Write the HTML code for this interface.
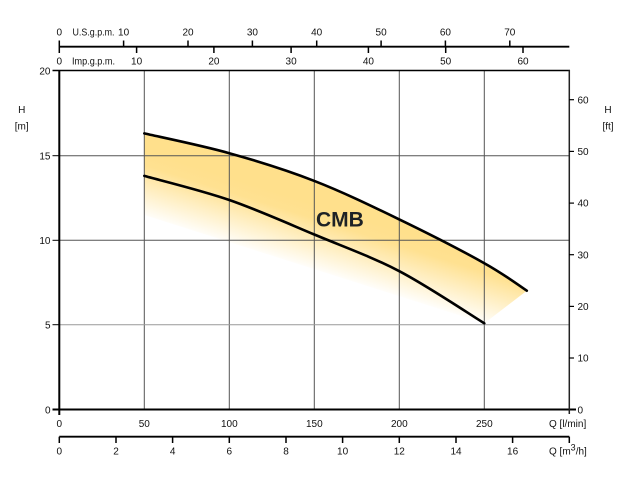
<!DOCTYPE html>
<html><head><meta charset="utf-8">
<style>
html,body{margin:0;padding:0;background:#fff;}
svg{display:block;}
text{font-family:"Liberation Sans",sans-serif;font-size:10px;fill:#111;}
</style></head>
<body>
<svg width="631" height="483" viewBox="0 0 631 483" xmlns="http://www.w3.org/2000/svg">
<defs>
<linearGradient id="g" gradientUnits="userSpaceOnUse" x1="314" y1="203.6" x2="294.5" y2="265.6">
<stop offset="0" stop-color="#FFE08C"/>
<stop offset="0.22" stop-color="#FFE191"/>
<stop offset="1" stop-color="#FFFFFF"/>
</linearGradient>
</defs>

<!-- fill -->
<path d="M144.3,133.4 C158.5,136.7 201,145.3 229.3,153.2 C257.6,161.1 286,169.9 314.3,180.9 C342.6,191.9 371,205.7 399.3,219.4 C427.6,233.1 463.1,251.3 484.3,263.2 C505.6,275.1 519.7,286.1 526.8,290.7 L484.3,323.3 L144.3,215 Z" fill="url(#g)"/>

<!-- grid -->
<g stroke="#555" stroke-width="1" fill="none">
<line x1="144.3" y1="71" x2="144.3" y2="409"/>
<line x1="229.3" y1="71" x2="229.3" y2="409"/>
<line x1="314.3" y1="71" x2="314.3" y2="409"/>
<line x1="399.3" y1="71" x2="399.3" y2="409"/>
<line x1="484.3" y1="71" x2="484.3" y2="409"/>
<line x1="60" y1="155.7" x2="569" y2="155.7"/>
<line x1="60" y1="240.3" x2="569" y2="240.3"/>
<line x1="60" y1="324.7" x2="569" y2="324.7" stroke="#999"/>
</g>

<!-- curves -->
<g stroke="#000" stroke-width="2.6" fill="none" stroke-linecap="round">
<path d="M144.3,133.4 C158.5,136.7 201,145.3 229.3,153.2 C257.6,161.1 286,169.9 314.3,180.9 C342.6,191.9 371,205.7 399.3,219.4 C427.6,233.1 463.1,251.3 484.3,263.2 C505.6,275.1 519.7,286.1 526.8,290.7"/>
<path d="M144.3,175.9 C158.5,179.9 201,190.2 229.3,200 C257.6,209.8 286,222.6 314.3,234.5 C342.6,246.4 371,256.4 399.3,271.2 C427.6,286 470.1,314.6 484.3,323.3"/>
</g>

<text x="316" y="226.7" style="font-size:21px;font-weight:bold;fill:#1e2226">CMB</text>

<!-- frame -->
<g stroke="#000" fill="none">
<line x1="59.3" y1="70.5" x2="59.3" y2="415" stroke-width="2"/>
<line x1="52.5" y1="409.5" x2="576" y2="409.5" stroke-width="2"/>
<line x1="52.5" y1="70.5" x2="570" y2="70.5" stroke-width="1.5"/>
<line x1="569.3" y1="70" x2="569.3" y2="414" stroke-width="1.5" stroke="#222"/>
<!-- left ticks -->
<line x1="52.5" y1="155.7" x2="59" y2="155.7" stroke-width="1"/>
<line x1="52.5" y1="240.3" x2="59" y2="240.3" stroke-width="1"/>
<line x1="52.5" y1="324.7" x2="59" y2="324.7" stroke-width="1"/>
<!-- right ticks -->
<g stroke-width="1.2">
<line x1="569" y1="99.7" x2="574" y2="99.7"/>
<line x1="569" y1="151.4" x2="574" y2="151.4"/>
<line x1="569" y1="203.1" x2="574" y2="203.1"/>
<line x1="569" y1="254.7" x2="574" y2="254.7"/>
<line x1="569" y1="306.4" x2="574" y2="306.4"/>
<line x1="569" y1="358" x2="574" y2="358"/>
</g>
<!-- top axis -->
<line x1="59.3" y1="46.7" x2="569.3" y2="46.7" stroke-width="1.8"/>
<line x1="59.3" y1="40.5" x2="59.3" y2="53" stroke-width="1.5"/>
<g stroke-width="1.5">
<line x1="123.6" y1="40.5" x2="123.6" y2="46.7"/>
<line x1="188" y1="40.5" x2="188" y2="46.7"/>
<line x1="252.4" y1="40.5" x2="252.4" y2="46.7"/>
<line x1="316.7" y1="40.5" x2="316.7" y2="46.7"/>
<line x1="381.1" y1="40.5" x2="381.1" y2="46.7"/>
<line x1="445.4" y1="40.5" x2="445.4" y2="46.7"/>
<line x1="509.8" y1="40.5" x2="509.8" y2="46.7"/>
<line x1="136.6" y1="46.7" x2="136.6" y2="53"/>
<line x1="213.9" y1="46.7" x2="213.9" y2="53"/>
<line x1="291.1" y1="46.7" x2="291.1" y2="53"/>
<line x1="368.4" y1="46.7" x2="368.4" y2="53"/>
<line x1="445.7" y1="46.7" x2="445.7" y2="53"/>
<line x1="523" y1="46.7" x2="523" y2="53"/>
</g>
<!-- bottom m3/h axis -->
<line x1="59.3" y1="436.7" x2="569.3" y2="436.7" stroke-width="1.8"/>
<g stroke-width="1.5">
<line x1="59.3" y1="436.7" x2="59.3" y2="443"/>
<line x1="116" y1="436.7" x2="116" y2="443"/>
<line x1="172.6" y1="436.7" x2="172.6" y2="443"/>
<line x1="229.3" y1="436.7" x2="229.3" y2="443"/>
<line x1="286" y1="436.7" x2="286" y2="443"/>
<line x1="342.6" y1="436.7" x2="342.6" y2="443"/>
<line x1="399.3" y1="436.7" x2="399.3" y2="443"/>
<line x1="456" y1="436.7" x2="456" y2="443"/>
<line x1="512.6" y1="436.7" x2="512.6" y2="443"/>
<line x1="569.3" y1="436.7" x2="569.3" y2="443"/>
</g>
</g>

<!-- top labels -->
<g text-anchor="middle">
<text x="59.3" y="35.3">0</text>
<text x="123.6" y="35.3">10</text>
<text x="188" y="35.3">20</text>
<text x="252.4" y="35.3">30</text>
<text x="316.7" y="35.3">40</text>
<text x="381.1" y="35.3">50</text>
<text x="445.4" y="35.3">60</text>
<text x="509.8" y="35.3">70</text>
<text x="59.3" y="64.6">0</text>
<text x="136.6" y="64.6">10</text>
<text x="213.9" y="64.6">20</text>
<text x="291.1" y="64.6">30</text>
<text x="368.4" y="64.6">40</text>
<text x="445.7" y="64.6">50</text>
<text x="523" y="64.6">60</text>
</g>
<text x="72.5" y="35.3" textLength="42" lengthAdjust="spacingAndGlyphs">U.S.g.p.m.</text>
<text x="72" y="64.6" textLength="43" lengthAdjust="spacingAndGlyphs">Imp.g.p.m.</text>

<!-- left labels -->
<g text-anchor="end">
<text x="50.5" y="74.3">20</text>
<text x="50.5" y="159.3">15</text>
<text x="50.5" y="243.9">10</text>
<text x="50.5" y="328.3">5</text>
<text x="50.5" y="413.3">0</text>
</g>
<g text-anchor="middle">
<text x="21.7" y="113">H</text>
<text x="21.7" y="129.3">[m]</text>
<text x="608" y="113">H</text>
<text x="608" y="129.3">[ft]</text>
</g>

<!-- right labels -->
<g>
<text x="577.5" y="103.3">60</text>
<text x="577.5" y="155">50</text>
<text x="577.5" y="206.7">40</text>
<text x="577.5" y="258.3">30</text>
<text x="577.5" y="310">20</text>
<text x="577.5" y="361.6">10</text>
<text x="577.5" y="413.3">0</text>
</g>

<!-- Q l/min labels -->
<g text-anchor="middle">
<text x="59.3" y="427">0</text>
<text x="144.3" y="427">50</text>
<text x="229.3" y="427">100</text>
<text x="314.3" y="427">150</text>
<text x="399.3" y="427">200</text>
<text x="484.3" y="427">250</text>
<text x="59.3" y="454.6">0</text>
<text x="116" y="454.6">2</text>
<text x="172.6" y="454.6">4</text>
<text x="229.3" y="454.6">6</text>
<text x="286" y="454.6">8</text>
<text x="342.6" y="454.6">10</text>
<text x="399.3" y="454.6">12</text>
<text x="456" y="454.6">14</text>
<text x="512.6" y="454.6">16</text>
</g>
<text x="549" y="427">Q [l/min]</text>
<text x="549" y="454.6">Q [m<tspan dy="-4" style="font-size:9px">3</tspan><tspan dy="4">/h]</tspan></text>
</svg>
</body></html>
